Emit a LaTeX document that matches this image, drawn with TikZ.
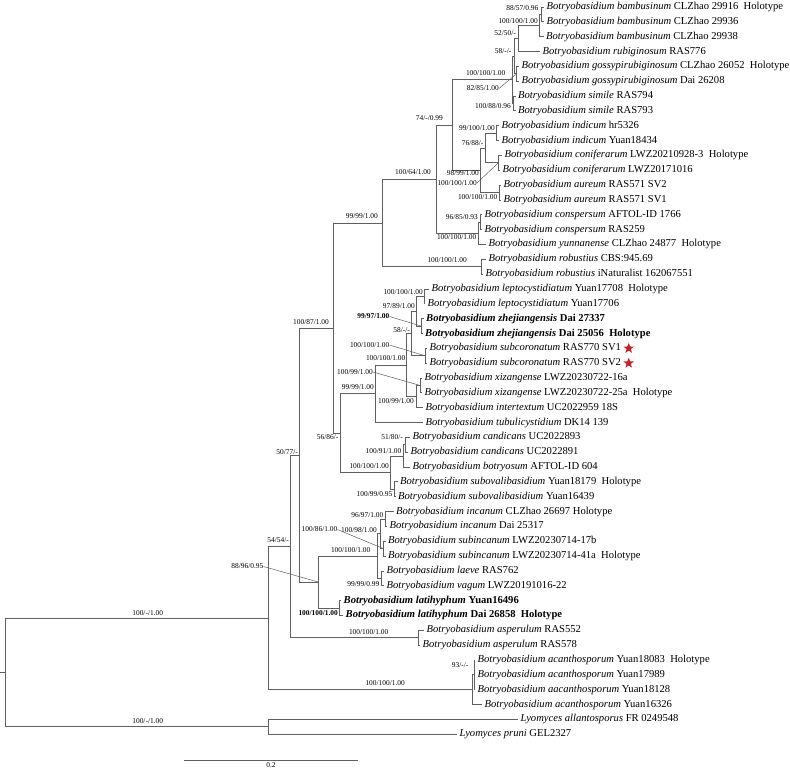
\documentclass[tikz,border=0pt]{standalone}
\usepackage{fontspec}
\setmainfont{Liberation Serif}
\usetikzlibrary{shapes.geometric}
\definecolor{treegray}{RGB}{95,95,95}
\definecolor{starred}{RGB}{200,30,40}
\newcommand{\mytaxon}[2]{\textit{Botryobasidium #1} #2}
\newcommand{\mybold}[2]{\textbf{\textit{Botryobasidium #1} #2}}
\newcommand{\holo}{\hspace{0.5em}Holotype}
\begin{document}
\begin{tikzpicture}[x=1pt,y=-1pt,
  br/.style={draw=treegray, line width=0.8pt},
  leader/.style={draw=treegray, line width=0.5pt},
  taxon/.style={anchor=west, inner sep=0pt, xshift=2.5pt, font=\fontsize{10.6}{12}\selectfont, text height=7.3pt, text depth=2.2pt},
  lab/.style={anchor=east, inner sep=0pt, font=\fontsize{7.4}{8}\selectfont},
  labb/.style={lab, font=\fontsize{7.4}{8}\selectfont\bfseries},
  redstar/.style={star, star points=5, star point ratio=2.4, minimum size=11pt, inner sep=0pt, fill=starred, draw=none}]
\fill[white] (0,0) rectangle (790,768);
\path[use as bounding box] (0,0) rectangle (790,768);
% tip ends
\coordinate (e1) at (544,7.00);
\coordinate (e2) at (544,21.84);
\coordinate (e3) at (543.5,36.68);
\coordinate (e4) at (540,51.52);
\coordinate (e5) at (519,66.36);
\coordinate (e6) at (519,81.20);
\coordinate (e7) at (515.5,96.04);
\coordinate (e8) at (515.5,110.88);
\coordinate (e9) at (499,125.72);
\coordinate (e10) at (499,140.56);
\coordinate (e11) at (502,155.40);
\coordinate (e12) at (500,170.24);
\coordinate (e13) at (501,185.08);
\coordinate (e14) at (501,199.92);
\coordinate (e15) at (482,214.76);
\coordinate (e16) at (482,229.60);
\coordinate (e17) at (486,244.44);
\coordinate (e18) at (486,259.28);
\coordinate (e19) at (483,274.12);
\coordinate (e20) at (429,288.96);
\coordinate (e21) at (425,303.80);
\coordinate (e22) at (423.5,318.64);
\coordinate (e23) at (422.5,333.48);
\coordinate (e24) at (427,348.32);
\coordinate (e25) at (427,363.16);
\coordinate (e26) at (422,378.00);
\coordinate (e27) at (422,392.84);
\coordinate (e28) at (423,407.68);
\coordinate (e29) at (423,422.52);
\coordinate (e30) at (410,437.36);
\coordinate (e31) at (408,452.20);
\coordinate (e32) at (410,467.04);
\coordinate (e33) at (397.5,481.88);
\coordinate (e34) at (395.5,496.72);
\coordinate (e35) at (393.5,511.56);
\coordinate (e36) at (387,526.40);
\coordinate (e37) at (385.5,541.24);
\coordinate (e38) at (385.5,556.08);
\coordinate (e39) at (384,570.92);
\coordinate (e40) at (384,585.76);
\coordinate (e41) at (341,600.60);
\coordinate (e42) at (343,615.44);
\coordinate (e43) at (424,630.28);
\coordinate (e44) at (420,645.12);
\coordinate (e45) at (475,659.96);
\coordinate (e46) at (475,674.80);
\coordinate (e47) at (475,689.64);
\coordinate (e48) at (482,704.48);
\coordinate (e49) at (518,719.32);
\coordinate (e50) at (457,734.16);
% internal nodes
\coordinate (N1) at (541,14.42);
\coordinate (N2) at (539.5,25.55);
\coordinate (V) at (518,38.54);
\coordinate (W) at (516.5,73.78);
\coordinate (U) at (514,56.16);
\coordinate (X) at (513.5,103.46);
\coordinate (T) at (512,79.81);
\coordinate (IND) at (496.7,133.14);
\coordinate (CON) at (498.3,162.82);
\coordinate (Z) at (485,147.98);
\coordinate (AU) at (499,192.5);
\coordinate (Y) at (480,170.24);
\coordinate (S) at (452.7,125.03);
\coordinate (AB) at (480,222.18);
\coordinate (AA) at (478,233.31);
\coordinate (R) at (436,179.17);
\coordinate (ROB) at (481.7,266.7);
\coordinate (RR) at (382.7,222.94);
\coordinate (L1) at (424.3,296.38);
\coordinate (L2) at (421,326.06);
\coordinate (L3) at (416.7,311.22);
\coordinate (SC) at (425,355.74);
\coordinate (L4) at (411,333.48);
\coordinate (XZ) at (420,385.42);
\coordinate (XI) at (416,396.55);
\coordinate (L5) at (406.7,365.02);
\coordinate (D) at (375,393.77);
\coordinate (CA) at (405.5,444.78);
\coordinate (CB) at (403.3,455.91);
\coordinate (SO) at (394,489.3);
\coordinate (E) at (390,472.61);
\coordinate (C) at (340,433.19);
\coordinate (B) at (333.3,328.07);
\coordinate (IN) at (385,518.98);
\coordinate (SI) at (383.5,548.66);
\coordinate (I) at (380.5,533.82);
\coordinate (LV) at (381.7,578.34);
\coordinate (H) at (377,556.08);
\coordinate (LH) at (339.5,608.02);
\coordinate (G) at (318.3,582.05);
\coordinate (A) at (299.3,455.06);
\coordinate (AS) at (418,637.7);
\coordinate (J) at (290,546.38);
\coordinate (AC1) at (474,674.8);
\coordinate (AC) at (472.7,689.64);
\coordinate (K) at (268.5,618.01);
\coordinate (LY) at (268.5,726.74);
\coordinate (ROOT) at (5.3,672.38);
\coordinate (STUB) at (0,672.38);
% branches
\draw[br] (N1) |- (e1) (N1) |- (e2);
\draw[br] (N2) |- (N1) (N2) |- (e3);
\draw[br] (V) |- (N2) (V) |- (e4);
\draw[br] (W) |- (e5) (W) |- (e6);
\draw[br] (U) |- (V) (U) |- (W);
\draw[br] (X) |- (e7) (X) |- (e8);
\draw[br] (T) |- (U) (T) |- (X);
\draw[br] (IND) |- (e9) (IND) |- (e10);
\draw[br] (CON) |- (e11) (CON) |- (e12);
\draw[br] (Z) |- (IND) (Z) |- (CON);
\draw[br] (AU) |- (e13) (AU) |- (e14);
\draw[br] (Y) |- (Z) (Y) |- (AU);
\draw[br] (S) |- (T) (S) |- (Y);
\draw[br] (AB) |- (e15) (AB) |- (e16);
\draw[br] (AA) |- (AB) (AA) |- (e17);
\draw[br] (R) |- (S) (R) |- (AA);
\draw[br] (ROB) |- (e18) (ROB) |- (e19);
\draw[br] (RR) |- (R) (RR) |- (ROB);
\draw[br] (L1) |- (e20) (L1) |- (e21);
\draw[br] (L2) |- (e22) (L2) |- (e23);
\draw[br] (L3) |- (L1) (L3) |- (L2);
\draw[br] (SC) |- (e24) (SC) |- (e25);
\draw[br] (L4) |- (L3) (L4) |- (SC);
\draw[br] (XZ) |- (e26) (XZ) |- (e27);
\draw[br] (XI) |- (XZ) (XI) |- (e28);
\draw[br] (L5) |- (L4) (L5) |- (XI);
\draw[br] (D) |- (L5) (D) |- (e29);
\draw[br] (CA) |- (e30) (CA) |- (e31);
\draw[br] (CB) |- (CA) (CB) |- (e32);
\draw[br] (SO) |- (e33) (SO) |- (e34);
\draw[br] (E) |- (CB) (E) |- (SO);
\draw[br] (C) |- (D) (C) |- (E);
\draw[br] (B) |- (RR) (B) |- (C);
\draw[br] (IN) |- (e35) (IN) |- (e36);
\draw[br] (SI) |- (e37) (SI) |- (e38);
\draw[br] (I) |- (IN) (I) |- (SI);
\draw[br] (LV) |- (e39) (LV) |- (e40);
\draw[br] (H) |- (I) (H) |- (LV);
\draw[br] (LH) |- (e41) (LH) |- (e42);
\draw[br] (G) |- (H) (G) |- (LH);
\draw[br] (A) |- (B) (A) |- (G);
\draw[br] (AS) |- (e43) (AS) |- (e44);
\draw[br] (J) |- (A) (J) |- (AS);
\draw[br] (AC1) |- (e45) (AC1) |- (e46) (AC1) |- (e47);
\draw[br] (AC) |- (AC1) (AC) |- (e48);
\draw[br] (K) |- (J) (K) |- (AC);
\draw[br] (LY) |- (e49) (LY) |- (e50);
\draw[br] (ROOT) |- (K) (ROOT) |- (LY);
\draw[br] (STUB) -- (ROOT);
% taxa
\node[taxon] (t1) at (e1) {\mytaxon{bambusinum}{CLZhao 29916\holo}};
\node[taxon] (t2) at (e2) {\mytaxon{bambusinum}{CLZhao 29936}};
\node[taxon] (t3) at (e3) {\mytaxon{bambusinum}{CLZhao 29938}};
\node[taxon] (t4) at (e4) {\mytaxon{rubiginosum}{RAS776}};
\node[taxon] (t5) at (e5) {\mytaxon{gossypirubiginosum}{CLZhao 26052\holo}};
\node[taxon] (t6) at (e6) {\mytaxon{gossypirubiginosum}{Dai 26208}};
\node[taxon] (t7) at (e7) {\mytaxon{simile}{RAS794}};
\node[taxon] (t8) at (e8) {\mytaxon{simile}{RAS793}};
\node[taxon] (t9) at (e9) {\mytaxon{indicum}{hr5326}};
\node[taxon] (t10) at (e10) {\mytaxon{indicum}{Yuan18434}};
\node[taxon] (t11) at (e11) {\mytaxon{coniferarum}{LWZ20210928-3\holo}};
\node[taxon] (t12) at (e12) {\mytaxon{coniferarum}{LWZ20171016}};
\node[taxon] (t13) at (e13) {\mytaxon{aureum}{RAS571 SV2}};
\node[taxon] (t14) at (e14) {\mytaxon{aureum}{RAS571 SV1}};
\node[taxon] (t15) at (e15) {\mytaxon{conspersum}{AFTOL-ID 1766}};
\node[taxon] (t16) at (e16) {\mytaxon{conspersum}{RAS259}};
\node[taxon] (t17) at (e17) {\mytaxon{yunnanense}{CLZhao 24877\holo}};
\node[taxon] (t18) at (e18) {\mytaxon{robustius}{CBS:945.69}};
\node[taxon] (t19) at (e19) {\mytaxon{robustius}{iNaturalist 162067551}};
\node[taxon] (t20) at (e20) {\mytaxon{leptocystidiatum}{Yuan17708\holo}};
\node[taxon] (t21) at (e21) {\mytaxon{leptocystidiatum}{Yuan17706}};
\node[taxon] (t22) at (e22) {\mybold{zhejiangensis}{Dai 27337}};
\node[taxon] (t23) at (e23) {\mybold{zhejiangensis}{Dai 25056\holo}};
\node[taxon] (t24) at (e24) {\mytaxon{subcoronatum}{RAS770 SV1}};
\node[taxon] (t25) at (e25) {\mytaxon{subcoronatum}{RAS770 SV2}};
\node[taxon] (t26) at (e26) {\mytaxon{xizangense}{LWZ20230722-16a}};
\node[taxon] (t27) at (e27) {\mytaxon{xizangense}{LWZ20230722-25a\holo}};
\node[taxon] (t28) at (e28) {\mytaxon{intertextum}{UC2022959 18S}};
\node[taxon] (t29) at (e29) {\mytaxon{tubulicystidium}{DK14 139}};
\node[taxon] (t30) at (e30) {\mytaxon{candicans}{UC2022893}};
\node[taxon] (t31) at (e31) {\mytaxon{candicans}{UC2022891}};
\node[taxon] (t32) at (e32) {\mytaxon{botryosum}{AFTOL-ID 604}};
\node[taxon] (t33) at (e33) {\mytaxon{subovalibasidium}{Yuan18179\holo}};
\node[taxon] (t34) at (e34) {\mytaxon{subovalibasidium}{Yuan16439}};
\node[taxon] (t35) at (e35) {\mytaxon{incanum}{CLZhao 26697 Holotype}};
\node[taxon] (t36) at (e36) {\mytaxon{incanum}{Dai 25317}};
\node[taxon] (t37) at (e37) {\mytaxon{subincanum}{LWZ20230714-17b}};
\node[taxon] (t38) at (e38) {\mytaxon{subincanum}{LWZ20230714-41a\holo}};
\node[taxon] (t39) at (e39) {\mytaxon{laeve}{RAS762}};
\node[taxon] (t40) at (e40) {\mytaxon{vagum}{LWZ20191016-22}};
\node[taxon] (t41) at (e41) {\mybold{latihyphum}{Yuan16496}};
\node[taxon] (t42) at (e42) {\mybold{latihyphum}{Dai 26858\holo}};
\node[taxon] (t43) at (e43) {\mytaxon{asperulum}{RAS552}};
\node[taxon] (t44) at (e44) {\mytaxon{asperulum}{RAS578}};
\node[taxon] (t45) at (e45) {\mytaxon{acanthosporum}{Yuan18083\holo}};
\node[taxon] (t46) at (e46) {\mytaxon{acanthosporum}{Yuan17989}};
\node[taxon] (t47) at (e47) {\mytaxon{aacanthosporum}{Yuan18128}};
\node[taxon] (t48) at (e48) {\mytaxon{acanthosporum}{Yuan16326}};
\node[taxon] (t49) at (e49) {\textit{Lyomyces allantosporus} FR 0249548};
\node[taxon] (t50) at (e50) {\textit{Lyomyces pruni} GEL2327};
% stars
\node[redstar] (s24) at ([xshift=7.5pt]t24.east) {};
\node[redstar] (s25) at ([xshift=7.5pt]t25.east) {};
% support labels
\node[lab] (lN1) at (538.5,8) {88/57/0.96};
\node[lab] (lN2) at (538,21) {100/100/1.00};
\node[lab] (lV) at (516,33.5) {52/50/-};
\node[lab] (lU) at (511.5,51) {58/-/-};
\node[lab] (lT) at (505.5,73) {100/100/1.00};
\node[lab] (lW) at (499,88.5) {82/85/1.00};
\node[lab] (lX) at (511,106) {100/88/0.96};
\node[lab] (lS) at (443,118) {74/-/0.99};
\node[lab] (lIND) at (495,128) {99/100/1.00};
\node[lab] (lZ) at (483.5,143.5) {76/88/-};
\node[lab] (lY) at (479,173.5) {98/99/1.00};
\node[lab] (lCON) at (477,183) {100/100/1.00};
\node[lab] (lAU) at (497.5,197) {100/100/1.00};
\node[lab] (lR) at (431,172.5) {100/64/1.00};
\node[lab] (lAB) at (478,217.5) {96/85/0.93};
\node[lab] (lAA) at (476.5,237) {100/100/1.00};
\node[lab] (lRR) at (378,216) {99/99/1.00};
\node[lab] (lROB) at (467,260) {100/100/1.00};
\node[lab] (lB) at (329,322) {100/87/1.00};
\node[lab] (lL1) at (423,292) {100/100/1.00};
\node[lab] (lL3) at (415,306.5) {97/89/1.00};
\node[labb] (lL2) at (389.5,316.5) {99/97/1.00};
\node[lab] (lL4) at (410,330.5) {58/-/-};
\node[lab] (lSC) at (389.5,345) {100/100/1.00};
\node[lab] (lL5) at (405.5,358.5) {100/100/1.00};
\node[lab] (lXZ) at (373,372) {100/99/1.00};
\node[lab] (lD) at (374,387.5) {99/99/1.00};
\node[lab] (lXI) at (414,401.5) {100/99/1.00};
\node[lab] (lC) at (338.5,437.5) {56/86/-};
\node[lab] (lCA) at (403,437) {51/80/-};
\node[lab] (lCB) at (401.5,451.5) {100/91/1.00};
\node[lab] (lE) at (389,466.5) {100/100/1.00};
\node[lab] (lSO) at (392.5,494) {100/99/0.95};
\node[lab] (lA) at (298,452) {50/77/-};
\node[lab] (lIN) at (383.5,515) {96/97/1.00};
\node[lab] (lI) at (377,530) {100/98/1.00};
\node[lab] (lSI) at (337.5,529.5) {100/86/1.00};
\node[lab] (lH) at (370.5,550) {100/100/1.00};
\node[lab] (lLV) at (379.5,584) {99/99/0.99};
\node[lab] (lG) at (263.5,566.5) {88/96/0.95};
\node[labb] (lLH) at (338,613.5) {100/100/1.00};
\node[lab] (lJ) at (289,540) {54/54/-};
\node[lab] (lAS) at (388.5,632.5) {100/100/1.00};
\node[lab] (lAC1) at (468.5,665.5) {93/-/-};
\node[lab] (lAC) at (405,683) {100/100/1.00};
\node[lab, anchor=center] (lK) at (147.7,613) {100/-/1.00};
\node[lab, anchor=center] (lLY) at (147.7,721.5) {100/-/1.00};
% leader lines
\draw[leader] (lW.east) -- (W);
\draw[leader] (lCON.east) -- (CON);
\draw[leader] (lL2.east) -- (L2);
\draw[leader] (lSC.east) -- (SC);
\draw[leader] (lXZ.east) -- (XZ);
\draw[leader] (lSI.east) -- (SI);
\draw[leader] (lG.east) -- (G);
% scale bar
\coordinate (sb1) at (183.5,760.5);
\coordinate (sb2) at (358.3,760.5);
\draw[br] (sb1) -- (sb2);
\node[lab, anchor=center] (sbl) at (271,765) {0.2};
\end{tikzpicture}
\end{document}
